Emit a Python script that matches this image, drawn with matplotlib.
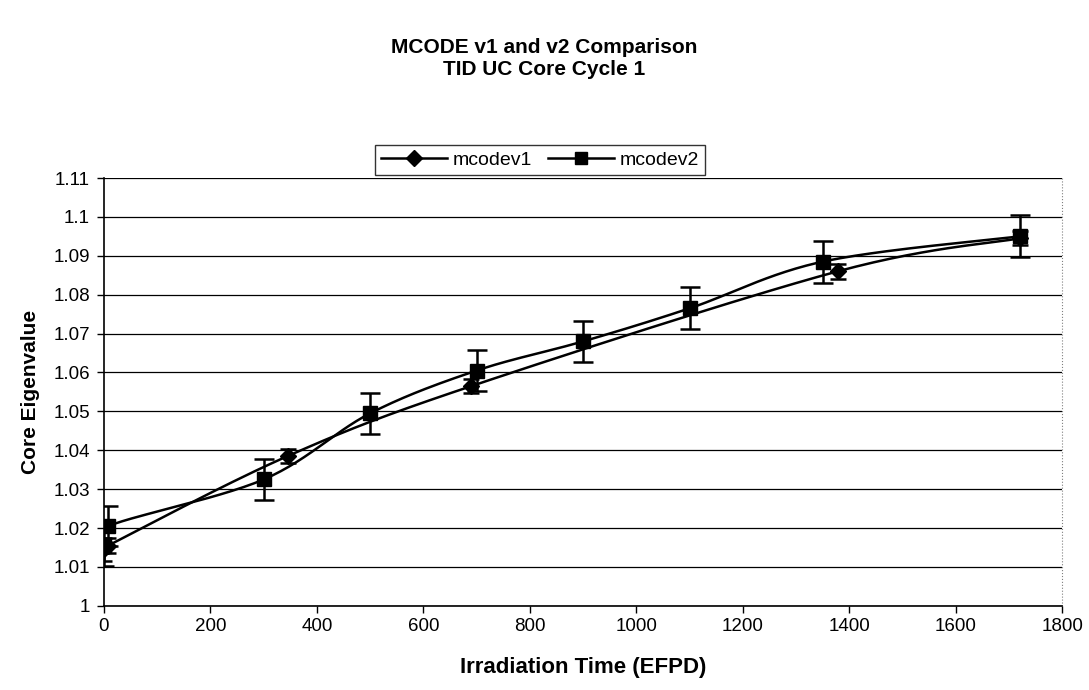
import numpy as np
import matplotlib
matplotlib.use("Agg")
import matplotlib.pyplot as plt
from matplotlib.ticker import FuncFormatter

plt.rcParams['font.family'] = ['Liberation Sans', 'DejaVu Sans']

# mcode v1 (diamonds)
v1_x = [0, 8, 345, 690, 1378, 1720]
v1_y = [1.0145, 1.0155, 1.0385, 1.0565, 1.086, 1.0945]
v1_err = [0.003, 0.002, 0.0018, 0.0018, 0.002, 0.0018]

# mcode v2 (squares)
v2_x = [0, 8, 300, 500, 700, 900, 1100, 1350, 1720]
v2_y = [1.0155, 1.0205, 1.0325, 1.0495, 1.0605, 1.068, 1.0765, 1.0885, 1.095]
v2_err = [0.0052, 0.0052, 0.0052, 0.0052, 0.0052, 0.0052, 0.0054, 0.0054, 0.0054]


def smooth(x, y, n=30):
    # catmull-rom style curve through the points, like excel smoothed lines
    x = np.asarray(x, float)
    y = np.asarray(y, float)
    px = np.concatenate([[x[0]], x, [x[-1]]])
    py = np.concatenate([[y[0]], y, [y[-1]]])
    xs, ys = [], []
    t = np.linspace(0, 1, n)
    for i in range(1, len(px) - 2):
        for p, out in ((px, xs), (py, ys)):
            p0, p1, p2, p3 = p[i - 1], p[i], p[i + 1], p[i + 2]
            m1 = (p2 - p0) / 6
            m2 = (p3 - p1) / 6
            b = ((1 - t) ** 3 * p1 + 3 * (1 - t) ** 2 * t * (p1 + m1)
                 + 3 * (1 - t) * t ** 2 * (p2 - m2) + t ** 3 * p2)
            out.extend(b)
    return xs, ys


fig = plt.figure(figsize=(10.89, 6.9), dpi=100)
ax = fig.add_axes([0.0955, 0.122, 0.88, 0.62])

sx, sy = smooth(v1_x, v1_y)
ax.plot(sx, sy, color='black', lw=1.8, zorder=3)
sx, sy = smooth(v2_x, v2_y)
ax.plot(sx, sy, color='black', lw=1.8, zorder=3)

ax.errorbar(v1_x, v1_y, yerr=v1_err, fmt='D', color='black', ms=8,
            capsize=6, elinewidth=1.8, capthick=1.8, zorder=4)
ax.errorbar(v2_x, v2_y, yerr=v2_err, fmt='s', color='black', ms=10,
            capsize=7, elinewidth=1.8, capthick=1.8, zorder=4)

# legend proxies
h1, = ax.plot([], [], '-D', color='black', ms=8, lw=1.8, label='mcodev1')
h2, = ax.plot([], [], '-s', color='black', ms=9, lw=1.8, label='mcodev2')
leg = fig.legend(handles=[h1, h2], loc='center', bbox_to_anchor=(0.496, 0.768),
                 ncol=2, frameon=True, fancybox=False, fontsize=14,
                 handlelength=3.4, columnspacing=0.8, handletextpad=0.3,
                 borderpad=0.3)
leg.get_frame().set_edgecolor('black')
leg.get_frame().set_linewidth(1.0)

ax.set_xlim(0, 1800)
ax.set_ylim(1.0, 1.11)
ax.set_xticks(np.arange(0, 1801, 200))
ax.set_yticks(np.round(np.arange(1.0, 1.1101, 0.01), 2))
ax.yaxis.set_major_formatter(FuncFormatter(lambda v, p: ('%.2f' % v).rstrip('0').rstrip('.')))
ax.tick_params(axis='both', labelsize=13.5, direction='out', length=5, width=1)
ax.tick_params(axis='y', pad=5)

ax.grid(axis='y', color='black', lw=0.9)
ax.set_axisbelow(True)
for s in ['top', 'right']:
    ax.spines[s].set_visible(False)
ax.spines['left'].set_linewidth(1.2)
ax.spines['bottom'].set_linewidth(1.2)
ax.plot([1800, 1800], [1.0, 1.11], color='gray', lw=0.8, ls=':', clip_on=False)

ax.set_xlabel('Irradiation Time (EFPD)', fontsize=16, fontweight='bold', labelpad=16)
ax.set_ylabel('Core Eigenvalue', fontsize=15, fontweight='bold', labelpad=10)

fig.text(0.5, 0.915, 'MCODE v1 and v2 Comparison\nTID UC Core Cycle 1', ha='center',
         va='center', fontsize=15, fontweight='bold', linespacing=1.2)

fig.savefig('out.png', dpi=100, facecolor='white')
